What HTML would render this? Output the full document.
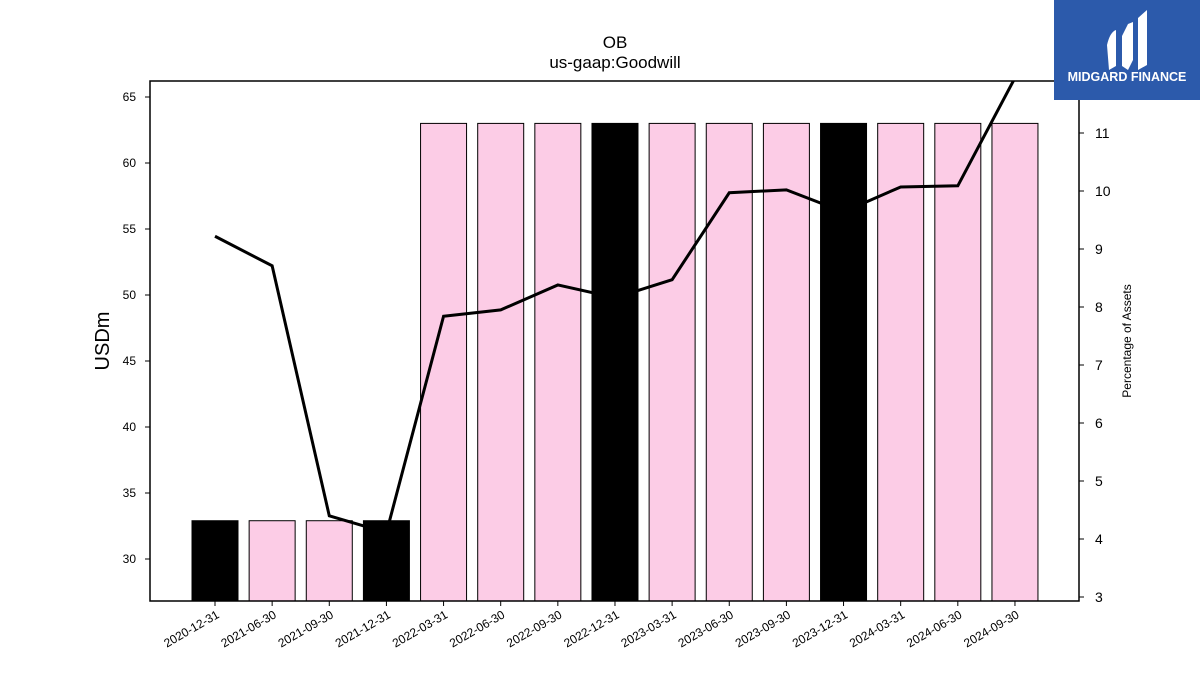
<!DOCTYPE html>
<html><head><meta charset="utf-8"><style>
body{margin:0;background:#fff;}
svg text{font-family:"Liberation Sans","DejaVu Sans",sans-serif;}
</style></head><body>
<svg id="chart" width="1200" height="675" xmlns="http://www.w3.org/2000/svg">
<rect width="1200" height="675" fill="#fff"/>
<text x="615" y="48" font-size="17" text-anchor="middle">OB</text>
<text x="615" y="68" font-size="17" text-anchor="middle">us-gaap:Goodwill</text>
<text transform="translate(109,341) rotate(-90)" font-size="20" text-anchor="middle">USDm</text>
<text transform="translate(1131,341) rotate(-90)" font-size="12" text-anchor="middle">Percentage of Assets</text>
<g id="bars"></g><g id="line"></g><g id="axes"></g>
<rect x="150" y="81" width="929" height="520" fill="none" stroke="#000" stroke-width="1.5"/>
<g>
<rect x="1054" y="0" width="146" height="100" fill="#2c5aab"/>
<path d="M1107 45 Q1110 32 1116 30 L1116 66 L1109 70 Z M1122 36 L1128 24 L1133 22 L1133 60 L1128 70 L1122 66 Z M1138 18 L1147 10 L1147 65 L1138 70 Z" fill="#fff"/>
<text x="1127" y="81" font-size="12.5" font-weight="bold" fill="#fff" text-anchor="middle">MIDGARD FINANCE</text>
</g>
</svg>
<script>
const categories=["2020-12-31","2021-06-30","2021-09-30","2021-12-31","2022-03-31","2022-06-30","2022-09-30","2022-12-31","2023-03-31","2023-06-30","2023-09-30","2023-12-31","2024-03-31","2024-06-30","2024-09-30"];
const goodwill=[32.9,32.9,32.9,32.9,63,63,63,63,63,63,63,63,63,63,63];
const pctAssets=[9.22,8.71,4.40,4.11,7.84,7.95,8.38,8.16,8.47,9.97,10.02,9.64,10.07,10.09,11.95];
const yTicks=[30,35,40,45,50,55,60,65];
const y2Ticks=[3,4,5,6,7,8,9,10,11];
const NS="http://www.w3.org/2000/svg";
const X0=150,X1=1079,Y0=81,Y1=601;
const step=(X1-X0)/(categories.length+1.26);
function x(i){return 215+i*57.14;}
function y(v){return 559-(v-30)*13.2;}
function y2(v){return 597-(v-3)*58;}
function mk(t,a,p){const e=document.createElementNS(NS,t);for(const k in a)e.setAttribute(k,a[k]);p.appendChild(e);return e;}
const bars=document.getElementById('bars'),line=document.getElementById('line'),axes=document.getElementById('axes');
categories.forEach((c,i)=>{
  const dark=(c.endsWith("12-31"));
  const top=y(goodwill[i]);
  const r=mk('rect',{x:x(i)-23,y:top,width:46,height:Y1-top,fill:dark?"#000":"#fccce6",stroke:"#000","stroke-width":1},bars);
  
  
  const tk=mk('line',{x1:x(i),x2:x(i),y1:Y1,y2:Y1+5,stroke:"#000"},axes);
  
  
  const t=mk('text',{transform:`translate(${x(i)+5},${Y1+16}) rotate(-30)`,"font-size":12,"text-anchor":"end"},axes);
  t.textContent=c;
  
  
});
const pts=pctAssets.map((v,i)=>x(i)+","+y2(v)).join(" ");
const cp=mk('clipPath',{id:'cp'},line);mk('rect',{x:X0,y:Y0,width:X1-X0,height:Y1-Y0},cp);
const pl=mk('polyline',{points:pts,fill:"none",stroke:"#000","stroke-width":3,"clip-path":"url(#cp)"},line);


yTicks.forEach(v=>{
  const l=mk('line',{x1:X0-5,x2:X0,y1:y(v),y2:y(v),stroke:"#000"},axes);
  
  
  const t=mk('text',{x:X0-14,y:y(v)+4,"font-size":12,"text-anchor":"end"},axes);t.textContent=v;
  
  
});
y2Ticks.forEach(v=>{
  const l=mk('line',{x1:X1,x2:X1+5,y1:y2(v),y2:y2(v),stroke:"#000"},axes);
  
  
  const t=mk('text',{x:X1+16,y:y2(v)+5,"font-size":14},axes);t.textContent=v;
  
  
});
</script>
</body></html>
